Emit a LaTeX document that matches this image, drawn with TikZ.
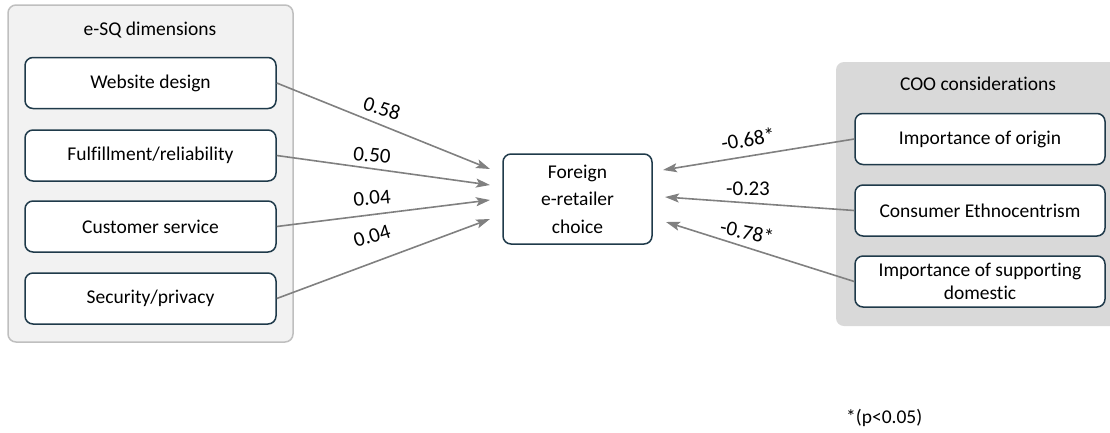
\documentclass[tikz,border=0pt]{standalone}
\usepackage{fontspec}
\setmainfont{Carlito}[Ligatures=NoCommon]
\usetikzlibrary{arrows.meta}
\definecolor{boxline}{HTML}{1F3A4A}
\definecolor{arrowgray}{HTML}{808080}
\definecolor{panelA}{HTML}{F2F2F2}
\definecolor{panelAline}{HTML}{BFBFBF}
\definecolor{panelB}{HTML}{D9D9D9}
\tikzset{
  txt/.style={font=\fontsize{19.5}{23.5}\selectfont, text=black},
  itembox/.style={txt, draw=boxline, line width=1.5pt, fill=white,
    rounded corners=8pt, minimum width=251pt, minimum height=51pt,
    inner sep=2pt, align=center},
  coef/.style={font=\fontsize{21}{25}\selectfont, text=black, inner sep=0pt},
  arr/.style={draw=arrowgray, line width=1.6pt,
    -{Stealth[length=14pt,width=9pt,inset=3pt]}},
}
\begin{document}
\begin{tikzpicture}[x=1pt,y=-1pt]
\useasboundingbox (0,0) rectangle (1110,432);

% group panels
\draw[fill=panelA, draw=panelAline, line width=1.5pt, rounded corners=8pt]
  (8,5) rectangle (293,342);
\fill[panelB, rounded corners=8pt] (836,62) rectangle (1125,326);
\node[txt] (esq) at (150,30) {e-SQ dimensions};
\node[txt] (coo) at (978,84) {COO considerations};

% e-SQ dimensions
\node[itembox] (web)  at (150.5,83)  {Website design};
\node[itembox] (ful)  at (150.5,155.5) {Fulfillment/reliability};
\node[itembox] (cus)  at (150.5,226.5) {Customer service};
\node[itembox] (sec)  at (150.5,298.5) {Security/privacy};

% COO considerations
\node[itembox, minimum width=250pt] (ori) at (980,139) {Importance of origin};
\node[itembox, minimum width=250pt] (eth) at (980,210.5) {Consumer Ethnocentrism};
\node[itembox, minimum width=250pt] (sup) at (980,281.5)
  {Importance of supporting\\[-0.5pt]domestic};

% outcome
\node[itembox, minimum width=149pt, minimum height=90pt] (fc) at (577.5,199)
  {Foreign\\[4pt]e-retailer\\[4pt]choice};

% arrow end points beside the outcome box
\coordinate (in1) at (490,169);
\coordinate (in2) at (490,185);
\coordinate (in3) at (490,200);
\coordinate (in4) at (490,219);
\coordinate (out1) at (663,170);
\coordinate (out2) at (665,197);
\coordinate (out3) at (666,222);

\draw[arr] (web.east) -- (in1);
\draw[arr] (ful.east) -- (in2);
\draw[arr] (cus.east) -- (in3);
\draw[arr] (sec.east) -- (in4);
\draw[arr] (ori.west) -- (out1);
\draw[arr] (eth.west) -- (out2);
\draw[arr] (sup.west) -- (out3);

% path coefficients
\node[coef, rotate=-17] (c1) at (382,108) {0.58};
\node[coef, rotate=-5]  (c2) at (372,155) {0.50};
\node[coef, rotate=5]   (c3) at (372,198) {0.04};
\node[coef, rotate=17]  (c4) at (372,236) {0.04};
\node[coef, rotate=10]  (c5) at (748,139) {-0.68*};
\node[coef]             (c6) at (748,189) {-0.23};
\node[coef, rotate=-12] (c7) at (747,232) {-0.78*};

% significance note
\node[txt, inner sep=0pt, anchor=west] (note) at (846,418) {*(p<0.05)};
\end{tikzpicture}
\end{document}
